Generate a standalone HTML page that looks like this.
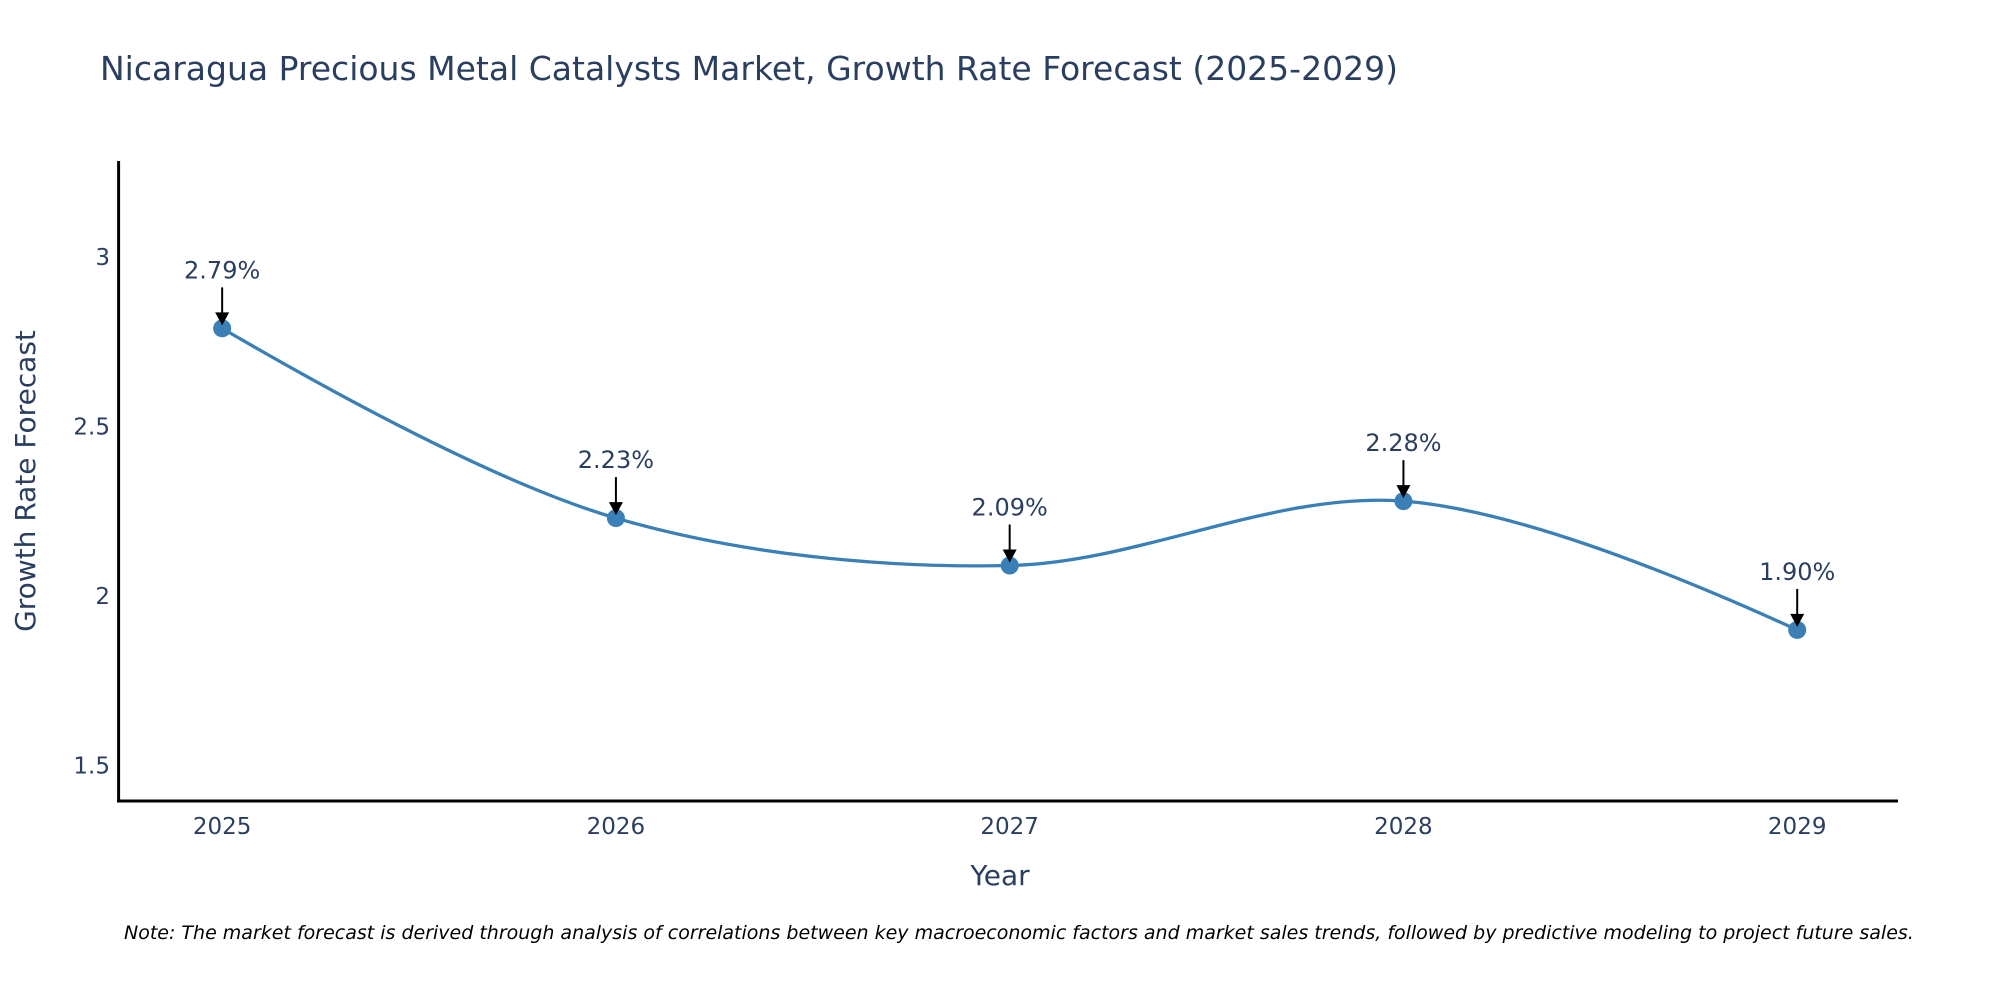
<!DOCTYPE html>
<html><head><meta charset="utf-8"><style>
body{margin:0;background:#fff;}
svg{display:block;font-family:"DejaVu Sans","Liberation Sans",sans-serif;}
</style></head><body>
<svg id="chart" width="2000" height="1000" viewBox="0 0 2000 1000">
<text x="100" y="80" font-size="33" fill="#2a3f5f">Nicaragua Precious Metal Catalysts Market, Growth Rate Forecast (2025-2029)</text>
<g id="yticks"></g>
<g id="xticks"></g>
<path id="line" fill="none" stroke="#3a7fb5" stroke-width="3.3"/>
<g id="points"></g>
<g id="annos"></g>
<line x1="118.6" y1="161" x2="118.6" y2="802" stroke="#000" stroke-width="3"/>
<line x1="117" y1="801" x2="1898" y2="801" stroke="#000" stroke-width="3"/>
<text x="1000" y="885" font-size="28" fill="#2a3f5f" text-anchor="middle">Year</text>
<text transform="translate(35,481) rotate(-90)" font-size="28" fill="#2a3f5f" text-anchor="middle">Growth Rate Forecast</text>
<text x="124" y="939" font-size="19" font-style="italic" fill="#000">Note: The market forecast is derived through analysis of correlations between key macroeconomic factors and market sales trends, followed by predictive modeling to project future sales.</text>
</svg>
<script>
const years=[2025,2026,2027,2028,2029];
const values=[2.79,2.23,2.09,2.28,1.90];
const labels=["2.79%","2.23%","2.09%","2.28%","1.90%"];
const yTickVals=[1.5,2,2.5,3];
const yTickLabels=["1.5","2","2.5","3"];
const NS="http://www.w3.org/2000/svg";
const xMin=2024.737,xMax=2029.256,x0=118.6,x1=1898;
const yMin=1.395,yMax=3.284,yb=801,yt=161;
const X=v=>x0+(v-xMin)/(xMax-xMin)*(x1-x0);
const Y=v=>yb-(v-yMin)/(yMax-yMin)*(yb-yt);
function mk(t,a,p){const e=document.createElementNS(NS,t);for(const k in a)e.setAttribute(k,a[k]);p.appendChild(e);return e;}
const yt_=document.getElementById('yticks');
yTickVals.forEach((v,i)=>{const t=mk('text',{x:110,y:Y(v)+8,'font-size':23,fill:'#2a3f5f','text-anchor':'end'},yt_);t.textContent=yTickLabels[i];

});
const xt=document.getElementById('xticks');
years.forEach(v=>{const t=mk('text',{x:X(v),y:834,'font-size':23,fill:'#2a3f5f','text-anchor':'middle'},xt);t.textContent=v;

});
const pts=years.map((y,i)=>[X(y),Y(values[i])]);
let d='M'+pts[0][0]+','+pts[0][1];
const s=1,tg=[];
for(let i=1;i<pts.length-1;i++){const p0=pts[i-1],p1=pts[i],p2=pts[i+1];
const d1x=p1[0]-p0[0],d1y=p1[1]-p0[1],d2x=p2[0]-p1[0],d2y=p2[1]-p1[1];
const l1=Math.hypot(d1x,d1y),l2=Math.hypot(d2x,d2y);
const tx=(d2x/l2+d1x/l1),ty=(d2y/l2+d1y/l1);
const k=s*0.25;
const nt=Math.hypot(tx,ty)||1;
tg[i]=[[p1[0]-tx/nt*l1*k*1.3,p1[1]-ty/nt*l1*k*1.3],[p1[0]+tx/nt*l2*k*1.3,p1[1]+ty/nt*l2*k*1.3]];}
for(let i=1;i<pts.length;i++){const a=pts[i-1],b=pts[i];
const c1=i-1>0?tg[i-1][1]:[a[0]+(b[0]-a[0])/3,a[1]+(b[1]-a[1])/3];
const c2=i<pts.length-1?tg[i][0]:[b[0]-(b[0]-a[0])/3,b[1]-(b[1]-a[1])/3];
if(i===1){d+=' Q'+c2[0]+','+c2[1]+' '+b[0]+','+b[1];}
else if(i===pts.length-1){d+=' Q'+c1[0]+','+c1[1]+' '+b[0]+','+b[1];}
else d+=' C'+c1[0]+','+c1[1]+' '+c2[0]+','+c2[1]+' '+b[0]+','+b[1];}
document.getElementById('line').setAttribute('d',d);
const pg=document.getElementById('points'),ag=document.getElementById('annos');
pts.forEach((p,i)=>{const c=mk('circle',{cx:p[0],cy:p[1],r:9,fill:'#3a7fb5'},pg);


const l=mk('line',{x1:p[0],y1:p[1]-41,x2:p[0],y2:p[1]-14,stroke:'#000','stroke-width':2},ag);


const h=mk('polygon',{points:(p[0]-7)+','+(p[1]-16)+' '+(p[0]+7)+','+(p[1]-16)+' '+p[0]+','+(p[1]-3),fill:'#000'},ag);


const t=mk('text',{x:p[0],y:p[1]-50,'font-size':24,fill:'#2a3f5f','text-anchor':'middle'},ag);t.textContent=labels[i];

});
</script>
</body></html>
